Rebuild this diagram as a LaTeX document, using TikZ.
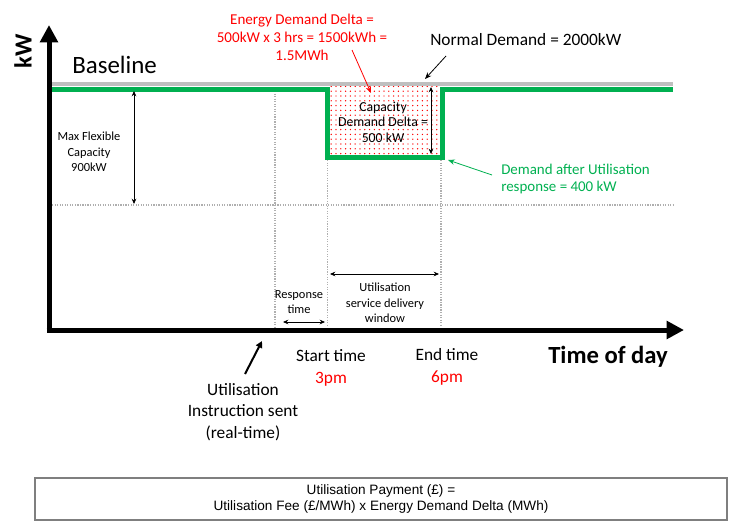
\documentclass[tikz,border=0pt]{standalone}
\usepackage{fontspec}
\setmainfont{Carlito}
\newfontfamily\arialfont{Liberation Sans}
\usetikzlibrary{arrows.meta,patterns.meta,positioning}
\definecolor{demandgreen}{RGB}{0,176,80}
\definecolor{basegray}{RGB}{191,191,191}
\definecolor{guidegray}{RGB}{175,175,175}
\definecolor{boxgray}{RGB}{127,127,127}
\tikzset{
	axis/.style={line width=3.75pt,-{Triangle[length=13pt,width=13pt]}},
	guide/.style={guidegray,densely dotted,line width=0.9pt},
	dimarrow/.style={{Stealth[length=4pt,width=3.5pt]}-{Stealth[length=4pt,width=3.5pt]},line width=0.6pt},
	pointer/.style={-{Stealth[length=5pt,width=4pt]},line width=0.6pt},
	txtsmall/.style={align=center,inner sep=0pt,font=\fontsize{9.3}{11.6}\selectfont},
	txtmid/.style={align=center,inner sep=0pt,font=\fontsize{11.2}{13.3}\selectfont},
	txtbig/.style={align=center,inner sep=0pt,font=\fontsize{13}{16}\selectfont},
	txthuge/.style={inner sep=0pt,font=\fontsize{18.7}{22}\selectfont},
}
\begin{document}
\begin{tikzpicture}[x=0.75pt,y=-0.75pt]
	\useasboundingbox (0,0) rectangle (738,528);
	\coordinate (origin) at (49,330);
	\coordinate (ytip) at (49,25);
	\coordinate (xtip) at (684,330);
	\fill[white,pattern={Dots[distance=3.6pt,radius=0.55pt]},pattern color=red] (329,86) rectangle (440,155);
	\draw[guide] (52,205) -- (673,205);
	\draw[guide] (275,91) -- (275,327);
	\draw[guide] (327.5,160) -- (327.5,327);
	\draw[guide] (441,160) -- (441,327);
	\draw[basegray,line width=3pt] (52,84) -- (673,84);
	\draw[demandgreen,line width=3.75pt] (52,89) -- (327.5,89) -- (327.5,157) -- (442,157) -- (442,89) -- (673,89);
	\draw[axis] (49,332.5) -- (ytip);
	\draw[axis] (46.5,330) -- (xtip);
	\node[txthuge,font=\fontsize{18.5}{22}\selectfont\bfseries,rotate=90] (kw) at (23,51) {kW};
	\node[txthuge,anchor=base west] (baseline) at (72,74) {Baseline};
	\node[txthuge,font=\fontsize{18.5}{22}\selectfont\bfseries,anchor=base west] (timeofday) at (548,363) {Time of day};
	\node[txtsmall] (maxflex) at (89,152) {Max Flexible\\Capacity\\900kW};
	\coordinate (maxtop) at (134,91);
	\coordinate (maxbot) at (134,204);
	\draw[dimarrow] (maxtop) -- (maxbot);
	\node[txtmid,font=\fontsize{10.3}{11.6}\selectfont] (capdelta) at (383,122) {Capacity\\Demand Delta =\\500 kW};
	\coordinate (captop) at (431,87);
	\coordinate (capbot) at (431,154);
	\draw[dimarrow] (captop) -- (capbot);
	\node[txtmid,text=red,font=\fontsize{11.3}{13.5}\selectfont] (energy) at (302,37) {Energy Demand Delta =\\500kW x 3 hrs = 1500kWh =\\1.5MWh};
	\coordinate (energyfrom) at (352,50);
	\coordinate (energyto) at (371,93);
	\draw[pointer,red] (energyfrom) -- (energyto);
	\node[txtbig,anchor=west] (normal) at (430,40) {Normal Demand = 2000kW};
	\coordinate (normalfrom) at (446,56);
	\coordinate (normalto) at (425,79);
	\draw[pointer] (normalfrom) -- (normalto);
	\node[txtmid,text=demandgreen,align=left,anchor=west,font=\fontsize{11.2}{12.8}\selectfont] (after) at (501,179) {Demand after Utilisation\\response = 400 kW};
	\coordinate (afterto) at (448,160);
	\draw[pointer,demandgreen] (after.west) ++(-9,-4) -- (afterto);
	\node[txtsmall] (window) at (385,303) {Utilisation\\service delivery\\window};
	\coordinate (winleft) at (330,274);
	\coordinate (winright) at (439,274);
	\draw[dimarrow] (winleft) -- (winright);
	\node[txtsmall] (response) at (299,302) {Response\\time};
	\coordinate (respleft) at (283,322);
	\coordinate (respright) at (325,322);
	\draw[dimarrow] (respleft) -- (respright);
	\node[txtbig,font=\fontsize{13}{16.5}\selectfont] (start) at (331,368) {Start time\\\textcolor{red}{3pm}};
	\node[txtbig,font=\fontsize{13}{16.5}\selectfont] (end) at (447,367) {End time\\\textcolor{red}{6pm}};
	\node[txtbig,font=\fontsize{13}{16.3}\selectfont] (instruction) at (243,412) {Utilisation\\Instruction sent\\(real-time)};
	\coordinate (instrfrom) at (245,374);
	\coordinate (instrto) at (262,341);
	\draw[line width=1.5pt,-{Triangle[length=5pt,width=5pt]}] (instrfrom) -- (instrto);
	\node[draw=boxgray,line width=1.5pt,minimum width=519pt,minimum height=31.5pt,align=center,font=\arialfont\fontsize{10.2}{11.3}\selectfont] (payment) at (381,499) {Utilisation Payment (£) =\\Utilisation Fee (£/MWh) x Energy Demand Delta (MWh)};
\end{tikzpicture}
\end{document}
